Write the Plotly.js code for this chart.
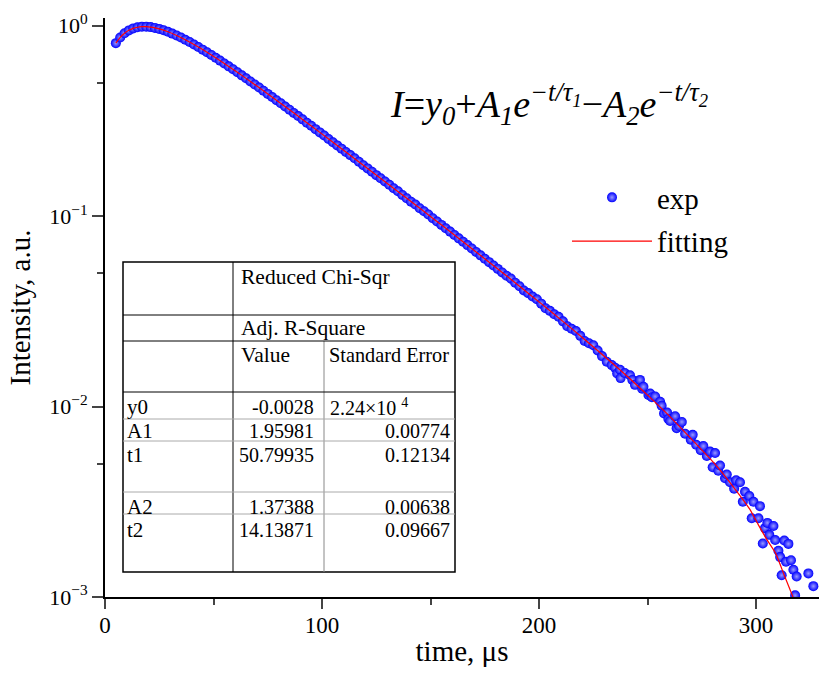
<!DOCTYPE html>
<html>
<head>
<meta charset="utf-8">
<script src="https://cdn.plot.ly/plotly-3.0.1.min.js"></script>
<style>html,body{margin:0;padding:0;background:#fff;}#chart{width:819px;height:675px;}</style>
</head>
<body>
<div id="chart"></div>
<script>
// ---- measured data (time in microseconds, intensity in a.u.) ----
const expTime = [5,7,9,11,13,15,17,19,21,23,25,27,29,31,33,35,37,39,41,43,45,47,49,51,53,55,57,59,61,63,65,67,69,71,73,75,77,79,81,83,85,87,89,91,93,95,97,99,101,103,105,107,109,111,113,115,117,119,121,123,125,127,129,131,133,135,137,139,141,143,145,147,149,151,153,155,157,159,161,163,165,167,169,171,173,175,177,179,181,183,185,187,189,191,193,195,197,199,201,203,205,207,209,211,213,215,217,219,221,223,225,227,229,
231.2,233.5,235,236,237.3,237.6,239.5,241.9,243,244.2,246.5,247.5,248.1,250.4,251.2,252,253.5,255.8,256.5,257.6,259,259.6,260.4,262.7,263.4,264.5,265.8,267.3,269.9,270.8,272.4,274.5,275.7,277.3,278.8,280,281.1,282.6,283.4,285.7,286.5,288,289.9,290.8,292.6,293.9,294.9,296.9,298,298.8,301.1,301.8,303.1,304.1,305.2,306.1,308,308.8,310.3,311.1,311.8,313,313.8,314.9,316.1,317.2,318,318.7,324.1,326.4];
const expIntensity = [0.809,0.867,0.912,0.944,0.967,0.980,0.987,0.987,0.982,0.973,0.961,0.946,0.928,0.908,0.888,0.866,0.843,0.820,0.796,0.772,0.748,0.725,0.701,0.678,0.655,0.633,0.611,0.590,0.569,0.548,0.529,0.509,0.491,0.473,0.455,0.438,0.422,0.406,0.391,0.376,0.362,0.348,0.335,0.322,0.309,0.298,0.286,0.275,0.265,0.254,0.244,0.235,0.226,0.217,0.209,0.201,0.193,0.185,0.178,0.171,0.164,0.158,0.152,0.146,0.140,0.135,0.129,0.124,0.119,0.115,0.110,0.106,0.102,0.0975,0.0936,0.0899,0.0863,0.0829,0.0796,0.0764,0.0733,0.0704,0.0676,0.0648,0.0622,0.0597,0.0573,0.0550,0.0528,0.0506,0.0486,0.0470,0.0447,0.0428,0.0407,0.0394,0.0378,0.0366,0.0347,0.0328,0.0318,0.0305,0.0296,0.0280,0.0264,0.0256,0.0249,0.0235,0.0221,0.0215,0.0210,0.0197,0.0184,
0.0172,0.0165,0.0160,0.0149,0.0156,0.0141,0.0150,0.0146,0.0138,0.0130,0.0138,0.0124,0.0127,0.0115,0.0117,0.0112,0.0113,0.0106,0.0101,0.0092,0.0093,0.0086,0.0084,0.0089,0.0077,0.0079,0.0083,0.0072,0.0067,0.0071,0.0063,0.0059,0.0062,0.0055,0.0058,0.0048,0.0057,0.0046,0.0049,0.0042,0.0044,0.0040,0.0037,0.0041,0.0040,0.00316,0.00357,0.00339,0.00259,0.00316,0.00259,0.00300,0.00191,0.00230,0.00245,0.00212,0.00236,0.00199,0.00175,0.00162,0.00130,0.00198,0.00153,0.00190,0.00156,0.00139,0.00102,0.00128,0.00133,0.00114];

const fitTime = [5,7,9,11,13,15,17,19,21,23,25,29,33,37,41,45,49,55,61,67,73,79,85,91,99,111,121,131,141,151,161,171,181,191,201,211,221,231,241,251,261,271,281,291,297,301,305,309,313,317,319,321];
const fitIntensity = [0.8087,0.8673,0.9119,0.9444,0.9667,0.9804,0.9868,0.9871,0.9823,0.9733,0.9608,0.9279,0.8876,0.8429,0.7960,0.7484,0.7012,0.6329,0.5686,0.5093,0.4551,0.4059,0.3616,0.3218,0.2751,0.2171,0.1779,0.1457,0.1193,0.0975,0.0796,0.0648,0.0528,0.0428,0.0347,0.0280,0.0225,0.0180,0.0143,0.0112,0.0087,0.0066,0.0050,0.0036,0.0029,0.0024,0.0020,0.0017,0.0013,0.0010,0.00087,0.00073];

const xTickVals = [0,100,200,300];
const yTickVals = [1,0.1,0.01,0.001];
const yTickText = ['10<sup>0</sup>','10<sup>\u22121</sup>','10<sup>\u22122</sup>','10<sup>\u22123</sup>'];
const yMinorVals = [0.5,0.05,0.005];

const tableRows = ['y0','A1','t1','A2','t2'];
const tableValues = ['-0.0028','1.95981','50.79935','1.37388','14.13871'];
const tableErrors = ['2.24\u00d710 <sup>4</sup>','0.00774','0.12134','0.00638','0.09667'];
const tableHeaders = ['Reduced Chi-Sqr','Adj. R-Square','Value','Standard Error'];

// ---- layout helpers (pixel -> paper) ----
const L = 105, R = 0, T = 18, B = 78, W = 819, H = 675;
const PW = W - L - R, PH = H - T - B;
const px = x => (x - L) / PW;
const py = y => (H - B - y) / PH;
const SERIF = 'Liberation Serif, Times New Roman, serif';

const shapes = [];
function hline(y, x0, x1, color, w) { shapes.push({type:'line', xref:'paper', yref:'paper', x0:px(x0), x1:px(x1), y0:py(y), y1:py(y), line:{color:color, width:w}}); }
function vline(x, y0, y1, color, w) { shapes.push({type:'line', xref:'paper', yref:'paper', x0:px(x), x1:px(x), y0:py(y0), y1:py(y1), line:{color:color, width:w}}); }

const tX0 = 123, tX1 = 455, tY0 = 262, tY1 = 572, col1 = 233, col2 = 324;
shapes.push({type:'rect', xref:'paper', yref:'paper', x0:px(tX0), x1:px(tX1), y0:py(tY0), y1:py(tY1), line:{color:'#000', width:1.5}, fillcolor:'rgba(255,255,255,1)', layer:'above'});
vline(col1, tY0, tY1, '#000', 1);
vline(col2, 341, tY1, '#888', 1);
hline(315, tX0, tX1, '#000', 1);
hline(341, tX0, tX1, '#000', 1);
hline(392, tX0, tX1, '#000', 1);
[419, 441, 492, 514].forEach(y => hline(y, tX0, tX1, '#aaa', 1));

const annotations = [];
function txt(text, x, y, anchor, size) {
  annotations.push({text:text, xref:'paper', yref:'paper', x:px(x), y:py(y), xanchor:anchor, yanchor:'middle', showarrow:false, font:{family:SERIF, size:size || 20, color:'#000'}});
}
txt(tableHeaders[0], 239, 277, 'left', 21.5);
txt(tableHeaders[1], 239, 328, 'left', 21.5);
txt(tableHeaders[2], 239, 355, 'left', 21.5);
txt(tableHeaders[3], 327, 355, 'left', 20.3);
const rowY = [407, 431, 455, 507, 530];
tableRows.forEach((r, i) => {
  txt(r, 125, rowY[i], 'left', 21);
  txt(tableValues[i], 316, rowY[i], 'right');
  txt(tableErrors[i], i === 0 ? 328 : 452, rowY[i], i === 0 ? 'left' : 'right');
});

// formula
annotations.push({
  text: '<i>I</i>=<i>y<sub>0</sub></i>+<i>A<sub>1</sub>e<sup>\u2212t/\u03c4<sub>1</sub></sup></i>\u2212<i>A<sub>2</sub>e<sup>\u2212t/\u03c4<sub>2</sub></sup></i>',
  xref:'paper', yref:'paper', x:px(549), y:py(104), xanchor:'center', yanchor:'middle',
  showarrow:false, font:{family:SERIF, size:38, color:'#000'}
});

const traces = [
  {type:'scatter', mode:'markers', name:'exp', x:expTime, y:expIntensity, legendgroup:'a',
   marker:{color:'#0000ff', size:10, gradient:{type:'radial', color:'#9a9aff'}, line:{width:0}}},
  {type:'scatter', mode:'lines', name:'fitting', x:fitTime, y:fitIntensity, legendgroup:'b',
   line:{color:'#ff0000', width:1.2, shape:'spline', smoothing:0.5}}
];

const layout = {
  width:W, height:H,
  margin:{l:L, r:R, t:T, b:B},
  paper_bgcolor:'#fff', plot_bgcolor:'#fff',
  font:{family:SERIF, color:'#000', size:23},
  showlegend:true,
  legend:{x:px(567), y:py(172), xanchor:'left', yanchor:'top', bgcolor:'rgba(0,0,0,0)', borderwidth:0,
          font:{family:SERIF, size:29, color:'#000'}, itemwidth:80, tracegroupgap:3},
  xaxis:{range:[0,329], tickmode:'array', tickvals:xTickVals, ticks:'outside', ticklen:10, tickwidth:2,
         showline:true, linewidth:2, linecolor:'#000', showgrid:false, zeroline:false, ticklabelstandoff:-4,
         tickfont:{family:SERIF, size:23}, minor:{dtick:50, ticks:'outside', ticklen:6, tickwidth:2, showgrid:false},
         title:{text:'time, \u03bcs', font:{family:SERIF, size:29}, standoff:4}},
  yaxis:{type:'log', range:[-3, 0.04], tickmode:'array', tickvals:yTickVals, ticktext:yTickText,
         ticks:'outside', ticklen:11, tickwidth:2, showline:true, linewidth:2, linecolor:'#000',
         showgrid:false, zeroline:false, tickfont:{family:SERIF, size:22},
         minor:{tickmode:'array', tickvals:yMinorVals, ticks:'outside', ticklen:6, tickwidth:2, showgrid:false},
         title:{text:'Intensity, a.u.', font:{family:SERIF, size:29}, standoff:10}},
  shapes:shapes,
  annotations:annotations
};

Plotly.newPlot('chart', traces, layout, {staticPlot:true, displayModeBar:false});
</script>
</body>
</html>
